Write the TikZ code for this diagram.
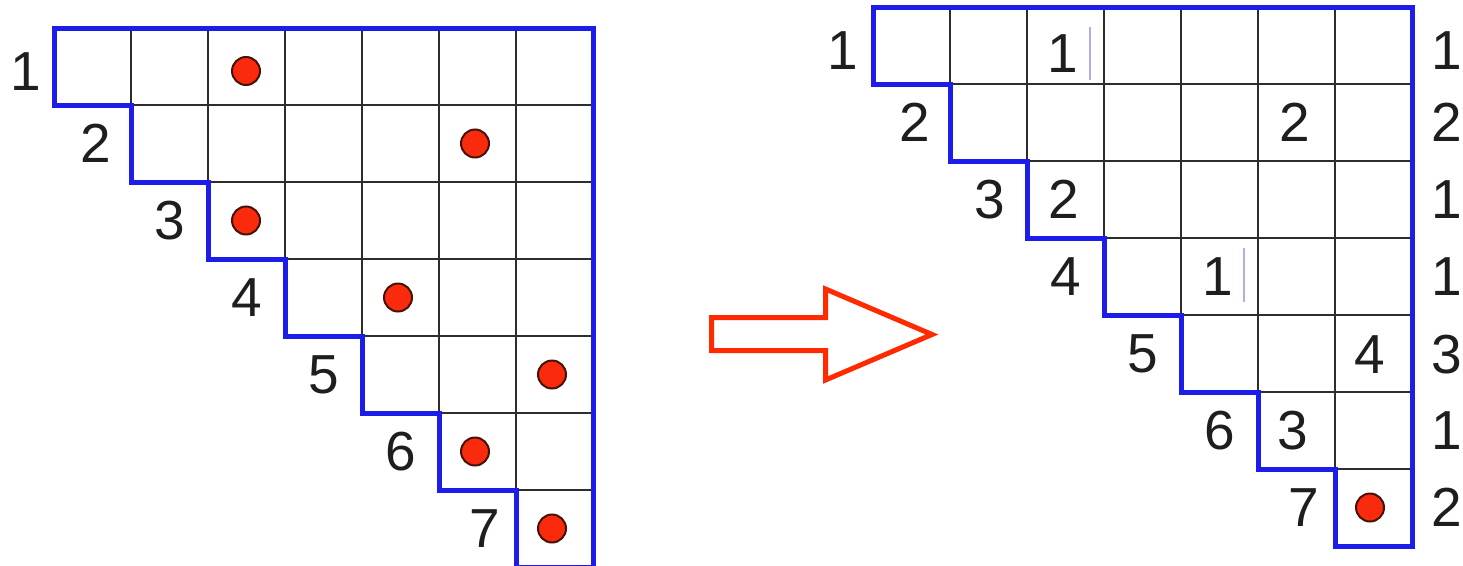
\documentclass[tikz,border=0pt]{standalone}
\usepackage{fontspec}
\setmainfont{Liberation Sans}
\definecolor{stairblue}{RGB}{28,28,235}
\definecolor{gridgray}{RGB}{45,45,45}
\definecolor{arrowred}{RGB}{255,42,0}
\definecolor{dotred}{RGB}{250,42,12}
\definecolor{dotrim}{RGB}{70,18,8}
\definecolor{cursorblue}{RGB}{175,175,230}
\definecolor{digitgray}{RGB}{30,30,30}
\tikzset{
  gridline/.style={gridgray,line width=1.8pt},
  stairline/.style={stairblue,line width=5pt,line join=miter},
  digit/.style={anchor=center,inner sep=0pt,text=digitgray,font=\fontsize{55}{60}\selectfont},
  marker/.style={circle,fill=dotred,draw=dotrim,line width=2pt,minimum size=28pt,inner sep=0pt}
}
\begin{document}
\begin{tikzpicture}[x=1pt,y=-1pt]
\path[use as bounding box] (0,0) rectangle (1463,565);
\draw[gridline] (131,105) -- (593,105) (208,182) -- (593,182) (285,259) -- (593,259) (362,336) -- (593,336) (439,413) -- (593,413) (516,490) -- (593,490);
\draw[gridline] (131,28) -- (131,105) (208,28) -- (208,182) (285,28) -- (285,259) (362,28) -- (362,336) (439,28) -- (439,413) (516,28) -- (516,490);
\draw[stairline] (54,28) -- (593,28) -- (593,567) -- (516,567) -- (516,490) -- (439,490) -- (439,413) -- (362,413) -- (362,336) -- (285,336) -- (285,259) -- (208,259) -- (208,182) -- (131,182) -- (131,105) -- (54,105) -- cycle;
\node[digit] (lrow1) at (26,72) {1};
\node[digit] (lrow2) at (96,143.5) {2};
\node[digit] (lrow3) at (170,220.5) {3};
\node[digit] (lrow4) at (247,297.5) {4};
\node[digit] (lrow5) at (324,374.5) {5};
\node[digit] (lrow6) at (401,451.5) {6};
\node[digit] (lrow7) at (485,528.5) {7};
\node[marker] (ldot1) at (246,71) {};
\node[marker] (ldot2) at (475,143.5) {};
\node[marker] (ldot3) at (246,220.5) {};
\node[marker] (ldot4) at (398,297.5) {};
\node[marker] (ldot5) at (552,374.5) {};
\node[marker] (ldot6) at (475,451.5) {};
\node[marker] (ldot7) at (552,528.5) {};
\draw[arrowred,line width=5pt,line join=miter] (711.5,317.5) -- (825.5,317.5) -- (825.5,289) -- (932,334.5) -- (825.5,380) -- (825.5,350.5) -- (711.5,350.5) -- cycle;
\draw[gridline] (950,84) -- (1412,84) (1027,161) -- (1412,161) (1104,238) -- (1412,238) (1181,315) -- (1412,315) (1258,392) -- (1412,392) (1335,469) -- (1412,469);
\draw[gridline] (950,7) -- (950,84) (1027,7) -- (1027,161) (1104,7) -- (1104,238) (1181,7) -- (1181,315) (1258,7) -- (1258,392) (1335,7) -- (1335,469);
\draw[stairline] (873,7) -- (1412,7) -- (1412,546) -- (1335,546) -- (1335,469) -- (1258,469) -- (1258,392) -- (1181,392) -- (1181,315) -- (1104,315) -- (1104,238) -- (1027,238) -- (1027,161) -- (950,161) -- (950,84) -- (873,84) -- cycle;
\node[digit] (rrow1) at (843,51) {1};
\node[digit] (rrow2) at (915,122.5) {2};
\node[digit] (rrow3) at (990,199.5) {3};
\node[digit] (rrow4) at (1066,276.5) {4};
\node[digit] (rrow5) at (1143,353.5) {5};
\node[digit] (rrow6) at (1220,430.5) {6};
\node[digit] (rrow7) at (1304,507.5) {7};
\node[digit] (cell13) at (1063,53.5) {1};
\node[digit] (cell26) at (1295,122.5) {2};
\node[digit] (cell33) at (1064,199.5) {2};
\node[digit] (cell45) at (1218,277) {1};
\node[digit] (cell57) at (1370,355) {4};
\node[digit] (cell66) at (1293,430.5) {3};
\node[marker] (rdot7) at (1370,507.5) {};
\draw[cursorblue,line width=1.2pt] (1090,27) -- (1090,80) (1244,248) -- (1244,302);
\node[digit] (sum1) at (1447,51) {1};
\node[digit] (sum2) at (1447,122.5) {2};
\node[digit] (sum3) at (1447,199.5) {1};
\node[digit] (sum4) at (1447,276.5) {1};
\node[digit] (sum5) at (1447,355) {3};
\node[digit] (sum6) at (1447,430.5) {1};
\node[digit] (sum7) at (1447,507.5) {2};
\end{tikzpicture}
\end{document}
